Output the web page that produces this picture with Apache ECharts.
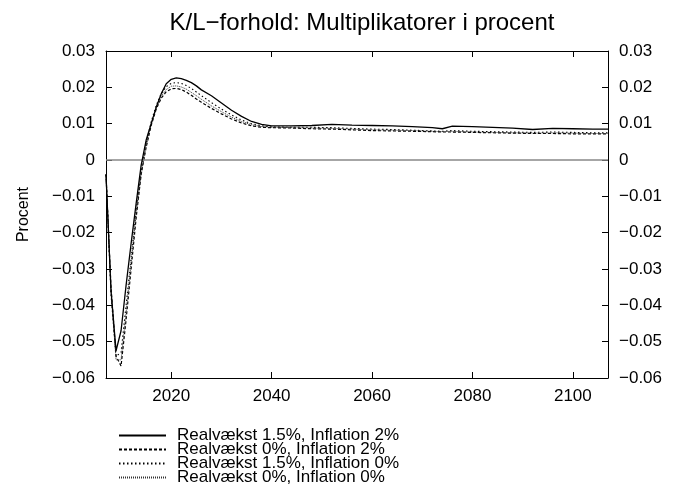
<!DOCTYPE html>
<html>
<head>
<meta charset="utf-8">
<script src="https://cdn.jsdelivr.net/npm/echarts@6/dist/echarts.min.js"></script>
<style>
  html, body { margin: 0; padding: 0; background: #fff; }
  #chart { width: 680px; height: 497px; }
</style>
</head>
<body>
<div id="chart"></div>
<script>
// år (tidsakse)
var years = [2007, 2008, 2009, 2010, 2011, 2012, 2013, 2014, 2015, 2016,
  2017, 2018, 2019, 2020, 2021, 2022, 2023, 2024, 2025, 2026,
  2028, 2030, 2032, 2034, 2036, 2038, 2040,
  2044, 2048, 2052, 2056, 2060, 2064, 2068, 2072,
  2074, 2076, 2080, 2084, 2088, 2092, 2096, 2100, 2104, 2107];

// Realvækst 1.5%, Inflation 2%
var realv15Infl2 = [-0.004, -0.036, -0.0525, -0.047, -0.0345, -0.023, -0.012, -0.0015, 0.0055, 0.010,
  0.0145, 0.0182, 0.021, 0.0222, 0.0226, 0.0224, 0.0219, 0.0213, 0.0204, 0.0193,
  0.0177, 0.0157, 0.0137, 0.012, 0.0106, 0.0098, 0.0094,
  0.0094, 0.0095, 0.0098, 0.0096, 0.0095, 0.0094, 0.0092, 0.0089,
  0.0086, 0.0093, 0.0092, 0.009, 0.0088, 0.0084, 0.0087, 0.0086, 0.0085, 0.0085];

// Realvækst 0%, Inflation 2%
var realv0Infl2 = [-0.004, -0.035, -0.054, -0.0567, -0.044, -0.030, -0.016, -0.004, 0.0035, 0.0095,
  0.014, 0.017, 0.0188, 0.0196, 0.0197, 0.0194, 0.0187, 0.0178, 0.0168, 0.0159,
  0.0142, 0.0127, 0.0113, 0.0102, 0.0094, 0.009, 0.0089,
  0.0088, 0.0086, 0.0085, 0.0083, 0.0081, 0.008, 0.0079, 0.0078,
  0.0077, 0.0077, 0.0076, 0.0075, 0.0074, 0.0073, 0.0073, 0.0072, 0.0072, 0.0072];

// Realvækst 1.5%, Inflation 0%
var realv15Infl0 = [-0.004, -0.037, -0.054, -0.053, -0.040, -0.027, -0.014, -0.003, 0.0045, 0.0105,
  0.015, 0.0183, 0.0202, 0.0211, 0.0213, 0.0211, 0.0205, 0.0197, 0.0187, 0.0177,
  0.0158, 0.014, 0.0124, 0.011, 0.010, 0.0094, 0.0091,
  0.009, 0.009, 0.0089, 0.0087, 0.0085, 0.0084, 0.0082, 0.008,
  0.0079, 0.0081, 0.0079, 0.0078, 0.0077, 0.0076, 0.0077, 0.0076, 0.0075, 0.0075];

// Realvækst 0%, Inflation 0%
var realv0Infl0 = [-0.004, -0.036, -0.055, -0.055, -0.042, -0.028, -0.015, -0.004, 0.004, 0.0098,
  0.0143, 0.0175, 0.0194, 0.0203, 0.0204, 0.0201, 0.0195, 0.0186, 0.0177, 0.0167,
  0.0149, 0.0133, 0.0118, 0.0106, 0.0097, 0.0092, 0.009,
  0.0089, 0.0088, 0.0087, 0.0085, 0.0083, 0.0082, 0.0081, 0.0079,
  0.0078, 0.0079, 0.0077, 0.0076, 0.0075, 0.0074, 0.0075, 0.0074, 0.0073, 0.0073];

var xTicks = [2020, 2040, 2060, 2080, 2100];

var chart = echarts.init(document.getElementById('chart'));

function pairs(vals) {
  return years.map(function (y, i) { return [y, vals[i]]; });
}

// etiketter med rigtigt minustegn
function fmtY(v) {
  if (Math.abs(v) < 1e-9) return '0';
  return (v < 0 ? '\u2212' : '') + Math.abs(v).toFixed(2);
}

var font = 'Liberation Sans, Arial, sans-serif';

var xBase = {
  type: 'value',
  min: 2007,
  max: 2107,
  axisLine: { show: true, onZero: false, lineStyle: { color: '#000', width: 1 } },
  axisTick: { show: true, inside: true, length: 6, customValues: xTicks, lineStyle: { color: '#000', width: 1 } },
  splitLine: { show: false }
};

var yBase = {
  type: 'value',
  min: -0.06,
  max: 0.03,
  interval: 0.01,
  axisLine: { show: true, onZero: false, lineStyle: { color: '#000', width: 1 } },
  axisTick: { show: true, inside: true, length: 6, lineStyle: { color: '#000', width: 1 } },
  splitLine: { show: false },
  axisLabel: { color: '#000', fontSize: 17, fontFamily: font, margin: 11, formatter: fmtY }
};

var option = {
  animation: false,
  backgroundColor: '#fff',
  title: {
    text: 'K/L\u2212forhold: Multiplikatorer i procent',
    left: 357,
    textAlign: 'center',
    top: 6,
    textStyle: { color: '#000', fontSize: 24, fontWeight: 'normal', fontFamily: font }
  },
  grid: { left: 106, right: 72, top: 51, bottom: 119 },
  xAxis: [
    Object.assign({}, xBase, {
      position: 'bottom',
      axisLabel: {
        color: '#000', fontSize: 17, fontFamily: font, margin: 10, customValues: xTicks,
        formatter: function (v) { return String(v); }
      }
    }),
    Object.assign({}, xBase, {
      position: 'top',
      axisLabel: { show: false }
    })
  ],
  yAxis: [
    Object.assign({}, yBase, {
      position: 'left',
      name: 'Procent',
      nameLocation: 'middle',
      nameRotate: 90,
      nameGap: 74,
      nameTextStyle: { color: '#000', fontSize: 16, fontFamily: font }
    }),
    Object.assign({}, yBase, { position: 'right' })
  ],
  legend: {
    orient: 'vertical',
    left: 118,
    top: 427,
    padding: 0,
    itemWidth: 47,
    itemHeight: 14,
    itemGap: -3,
    itemStyle: { opacity: 0 },
    textStyle: { color: '#000', fontSize: 17, lineHeight: 14, fontFamily: font, padding: [0, 0, 0, 6] },
    data: ['Realvækst 1.5%, Inflation 2%', 'Realvækst 0%, Inflation 2%',
      'Realvækst 1.5%, Inflation 0%', 'Realvækst 0%, Inflation 0%']
  },
  series: [
    {
      name: 'Realvækst 1.5%, Inflation 2%',
      type: 'line',
      data: pairs(realv15Infl2),
      symbol: 'none',
      lineStyle: { color: '#000', width: 1.3, type: 'solid' },
      itemStyle: { color: '#000' },
      z: 5,
      markLine: {
        silent: true,
        symbol: 'none',
        label: { show: false },
        lineStyle: { color: '#888', width: 1.5, type: 'solid' },
        data: [{ yAxis: 0 }]
      }
    },
    {
      name: 'Realvækst 0%, Inflation 2%',
      type: 'line',
      data: pairs(realv0Infl2),
      symbol: 'none',
      lineStyle: { color: '#000', width: 1.2, type: [3, 2] },
      itemStyle: { color: '#000' }
    },
    {
      name: 'Realvækst 1.5%, Inflation 0%',
      type: 'line',
      data: pairs(realv15Infl0),
      symbol: 'none',
      lineStyle: { color: '#000', width: 1.1, type: [1.5, 2.5] },
      itemStyle: { color: '#000' }
    },
    {
      name: 'Realvækst 0%, Inflation 0%',
      type: 'line',
      data: pairs(realv0Infl0),
      symbol: 'none',
      lineStyle: { color: '#333', width: 1, type: [1, 1] },
      itemStyle: { color: '#333' }
    }
  ]
};

chart.setOption(option);
</script>
</body>
</html>
